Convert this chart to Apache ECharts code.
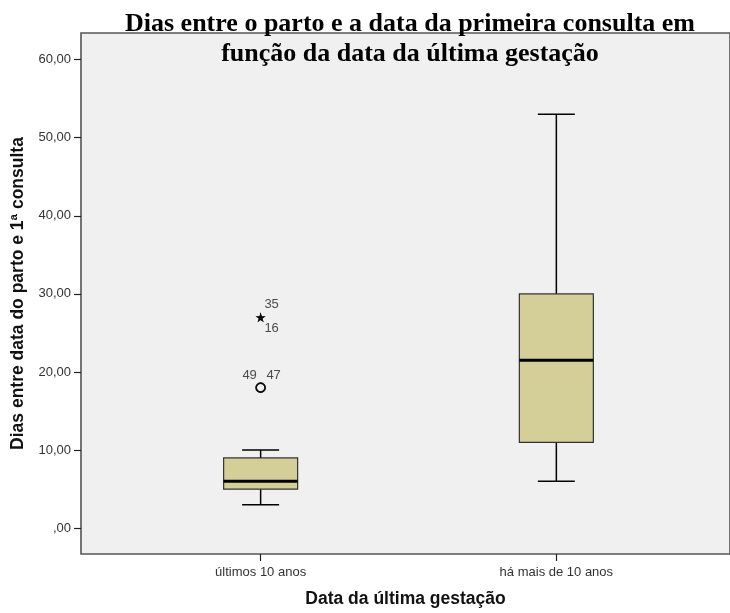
<!DOCTYPE html>
<html><head><meta charset="utf-8">
<script src="https://cdn.jsdelivr.net/npm/echarts@6/dist/echarts.min.js"></script>
<style>html,body{margin:0;padding:0;background:#fff}#c{width:730px;height:613px}</style>
</head><body><div id="c"></div>
<script>
const titleText = 'Dias entre o parto e a data da primeira consulta em\nfunção da data da última gestação';
const categories = ['últimos 10 anos', 'há mais de 10 anos'];
const categoryPos = [0, 1];
const whiskerLow = [3, 6];
const q1 = [5, 11];
const median = [6, 21.5];
const q3 = [9, 30];
const whiskerHigh = [10, 53];
const outlierCases = [[0, 18, '49'], [0, 18, '47']];
const extremeCases = [[0, 27, '35'], [0, 27, '16']];
const yTicks = [0, 10, 20, 30, 40, 50, 60];
const yName = 'Dias entre data do parto e 1ª consulta';
const xName = 'Data da última gestação';

const boxData = categoryPos.map((x, i) => [x, whiskerLow[i], q1[i], median[i], q3[i], whiskerHigh[i]]);

const BOX_W = 74, CAP_W = 37;
function renderBox(params, api) {
  const x = api.value(0);
  const pLow = api.coord([x, api.value(1)]);
  const pQ1 = api.coord([x, api.value(2)]);
  const pMed = api.coord([x, api.value(3)]);
  const pQ3 = api.coord([x, api.value(4)]);
  const pHigh = api.coord([x, api.value(5)]);
  const cx = pLow[0];
  const line = { stroke: '#000', lineWidth: 1.5 };
  return { type: 'group', children: [
    { type: 'line', shape: { x1: cx, y1: pQ3[1], x2: cx, y2: pHigh[1] }, style: line },
    { type: 'line', shape: { x1: cx, y1: pLow[1], x2: cx, y2: pQ1[1] }, style: line },
    { type: 'line', shape: { x1: cx - CAP_W / 2, y1: pHigh[1], x2: cx + CAP_W / 2, y2: pHigh[1] }, style: line },
    { type: 'line', shape: { x1: cx - CAP_W / 2, y1: pLow[1], x2: cx + CAP_W / 2, y2: pLow[1] }, style: line },
    { type: 'rect', shape: { x: cx - BOX_W / 2, y: pQ3[1], width: BOX_W, height: pQ1[1] - pQ3[1] }, style: { fill: '#d4cf99', stroke: '#333', lineWidth: 1.2 } },
    { type: 'line', shape: { x1: cx - BOX_W / 2, y1: pMed[1], x2: cx + BOX_W / 2, y2: pMed[1] }, style: { stroke: '#000', lineWidth: 3 } }
  ] };
}

const labelOffsets = { '35': [11, -13], '16': [11, 11], '49': [-11, -12], '47': [13, -12] };
const labelStyle = { show: true, position: 'inside', color: '#222', fontSize: 13, fontFamily: 'Liberation Sans' };
function mkPoints(arr) {
  return arr.map(d => ({ value: [d[0], d[1]], name: d[2], label: Object.assign({}, labelStyle, { offset: labelOffsets[d[2]], formatter: d[2] }) }));
}

const chart = echarts.init(document.getElementById('c'), null, { renderer: 'canvas' });
chart.setOption({
  animation: false,
  backgroundColor: '#fff',
  title: {
    text: titleText,
    left: 405, top: 4, textAlign: 'center',
    textStyle: { fontFamily: 'Liberation Serif', fontWeight: 'bold', fontSize: 26, lineHeight: 30, color: '#000' }
  },
  grid: { left: 81, top: 33, right: -5, bottom: 54, show: true, backgroundColor: '#f0f0f0', borderColor: '#555', borderWidth: 1.6, containLabel: false },
  xAxis: {
    type: 'value', min: -0.6074, max: 1.5872,
    axisLine: { show: false, onZero: false },
    axisTick: { show: true, customValues: categoryPos, length: 7, lineStyle: { color: '#222', width: 1.2 } },
    axisLabel: { customValues: categoryPos, formatter: v => categories[Math.round(v)], margin: 12, fontSize: 13, fontFamily: 'Liberation Sans', color: '#333' },
    splitLine: { show: false },
    name: xName, nameLocation: 'middle', nameGap: 36,
    nameTextStyle: { fontFamily: 'Liberation Sans', fontWeight: 'bold', fontSize: 17.5, color: '#111' }
  },
  yAxis: {
    type: 'value', min: -3.3, max: 63.4,
    axisLine: { show: false, onZero: false },
    axisTick: { show: true, customValues: yTicks, length: 7, lineStyle: { color: '#222', width: 1.2 } },
    axisLabel: { customValues: yTicks, formatter: v => (v === 0 ? '' : String(v)) + ',00', margin: 10, fontSize: 13, fontFamily: 'Liberation Sans', color: '#333' },
    splitLine: { show: false },
    name: yName, nameLocation: 'middle', nameGap: 54,
    nameTextStyle: { fontFamily: 'Liberation Sans', fontWeight: 'bold', fontSize: 17.5, color: '#111' }
  },
  series: [
    { type: 'custom', renderItem: renderBox, data: boxData, encode: { x: 0, y: [1, 2, 3, 4, 5] }, z: 2 },
    { type: 'scatter', data: mkPoints(outlierCases), symbol: 'circle', symbolSize: 9, itemStyle: { color: 'rgba(0,0,0,0)', borderColor: '#000', borderWidth: 1.6 }, z: 3 },
    { type: 'scatter', data: mkPoints(extremeCases), symbol: 'path://M50,0 L61,35 L98,35 L68,57 L79,91 L50,70 L21,91 L32,57 L2,35 L39,35 Z', symbolSize: 10, itemStyle: { color: '#000' }, z: 3 }
  ]
});
</script></body></html>
